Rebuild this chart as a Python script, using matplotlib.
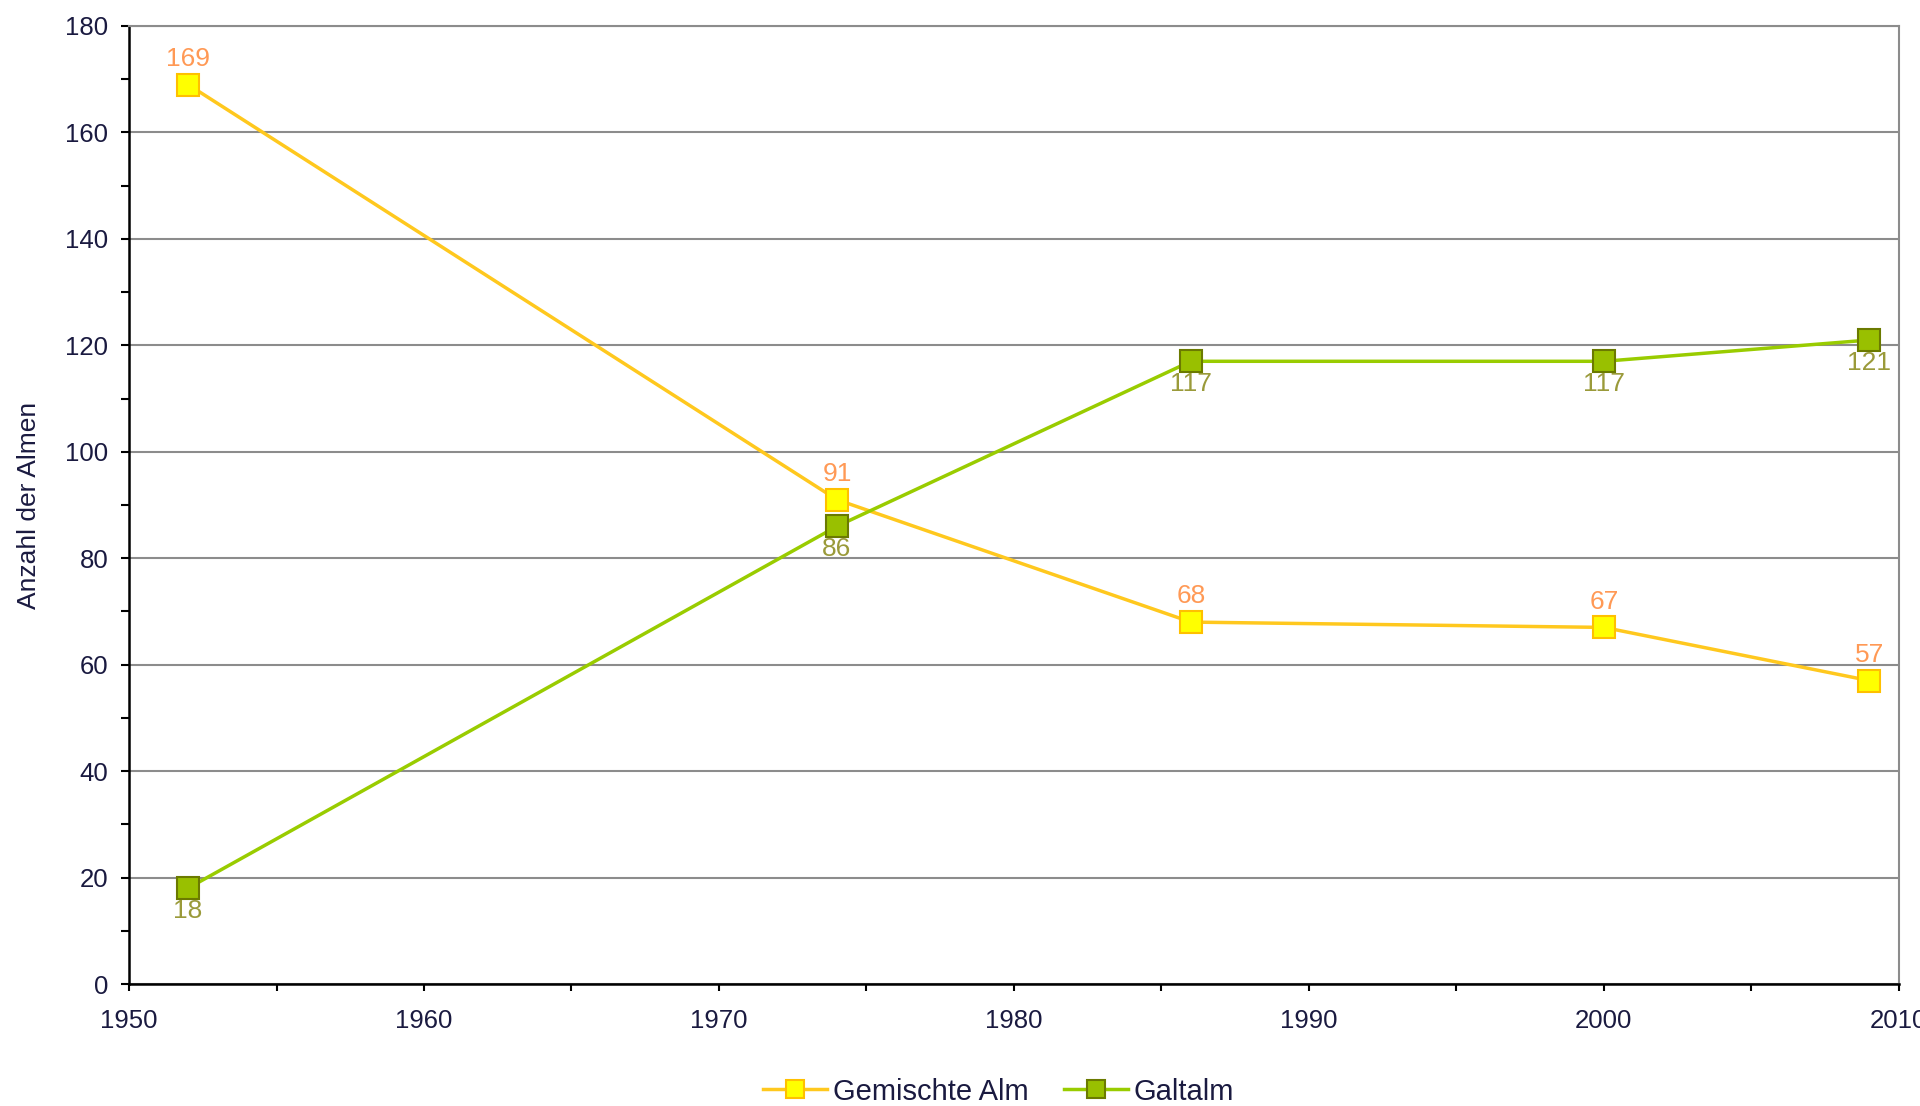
import matplotlib
matplotlib.use("Agg")
import matplotlib.pyplot as plt
from matplotlib.ticker import MultipleLocator

plt.rcParams['font.family'] = ['Liberation Sans', 'DejaVu Sans']

years = [1952, 1974, 1986, 2000, 2009]
gemischte = [169, 91, 68, 67, 57]
galtalm = [18, 86, 117, 117, 121]
series_names = ["Gemischte Alm", "Galtalm"]
y_label = "Anzahl der Almen"

fig = plt.figure(figsize=(19.2, 11.06), dpi=100)
ax = fig.add_axes([0.0672, 0.1103, 0.9218, 0.8662])

ax.set_xlim(1950, 2010)
ax.set_ylim(0, 180)
ax.xaxis.set_major_locator(MultipleLocator(10))
ax.xaxis.set_minor_locator(MultipleLocator(5))
ax.yaxis.set_major_locator(MultipleLocator(20))
ax.yaxis.set_minor_locator(MultipleLocator(10))
ax.grid(axis='y', which='major', color='#8c8c8c', linewidth=1.5)
ax.set_axisbelow(True)

for s in ['left', 'bottom']:
    ax.spines[s].set_color('black')
    ax.spines[s].set_linewidth(1.8)
for s in ['right', 'top']:
    ax.spines[s].set_color('#8c8c8c')
    ax.spines[s].set_linewidth(1.5)

ax.tick_params(axis='both', which='both', direction='out', color='black', width=1.5,
               labelsize=18.5, labelcolor='#1a1a40')
ax.tick_params(axis='y', which='both', length=6, pad=9)
ax.tick_params(axis='x', which='both', length=5, pad=13)

ax.plot(years, gemischte, color='#FFC81E', linewidth=2.5, marker='s', markersize=16.5,
        markerfacecolor='#FFFF00', markeredgecolor='#FFC000', markeredgewidth=1.5,
        label=series_names[0], zorder=3)
ax.plot(years, galtalm, color='#99CC00', linewidth=2.5, marker='s', markersize=16.5,
        markerfacecolor='#99C000', markeredgecolor='#6B7A00', markeredgewidth=1.5,
        label=series_names[1], zorder=3)

for x, y in zip(years, gemischte):
    ax.annotate(str(y), (x, y), xytext=(0, 10), textcoords='offset points',
                ha='center', va='bottom', fontsize=19, color='#FF9955')
for x, y in zip(years, galtalm):
    ax.annotate(str(y), (x, y), xytext=(0, -8), textcoords='offset points',
                ha='center', va='top', fontsize=19, color='#9A9A3A')

ax.set_ylabel(y_label, fontsize=19, color='#1a1a40')
ax.yaxis.set_label_coords(-0.050, 0.5)

leg = fig.legend(loc='center', bbox_to_anchor=(0.52, 0.013), ncol=2, frameon=False,
                 fontsize=21, handlelength=2.2, columnspacing=1.2, handletextpad=0.2,
                 markerscale=0.8)
for t in leg.get_texts():
    t.set_color('#1a1a40')

fig.savefig('out.png', dpi=100)
